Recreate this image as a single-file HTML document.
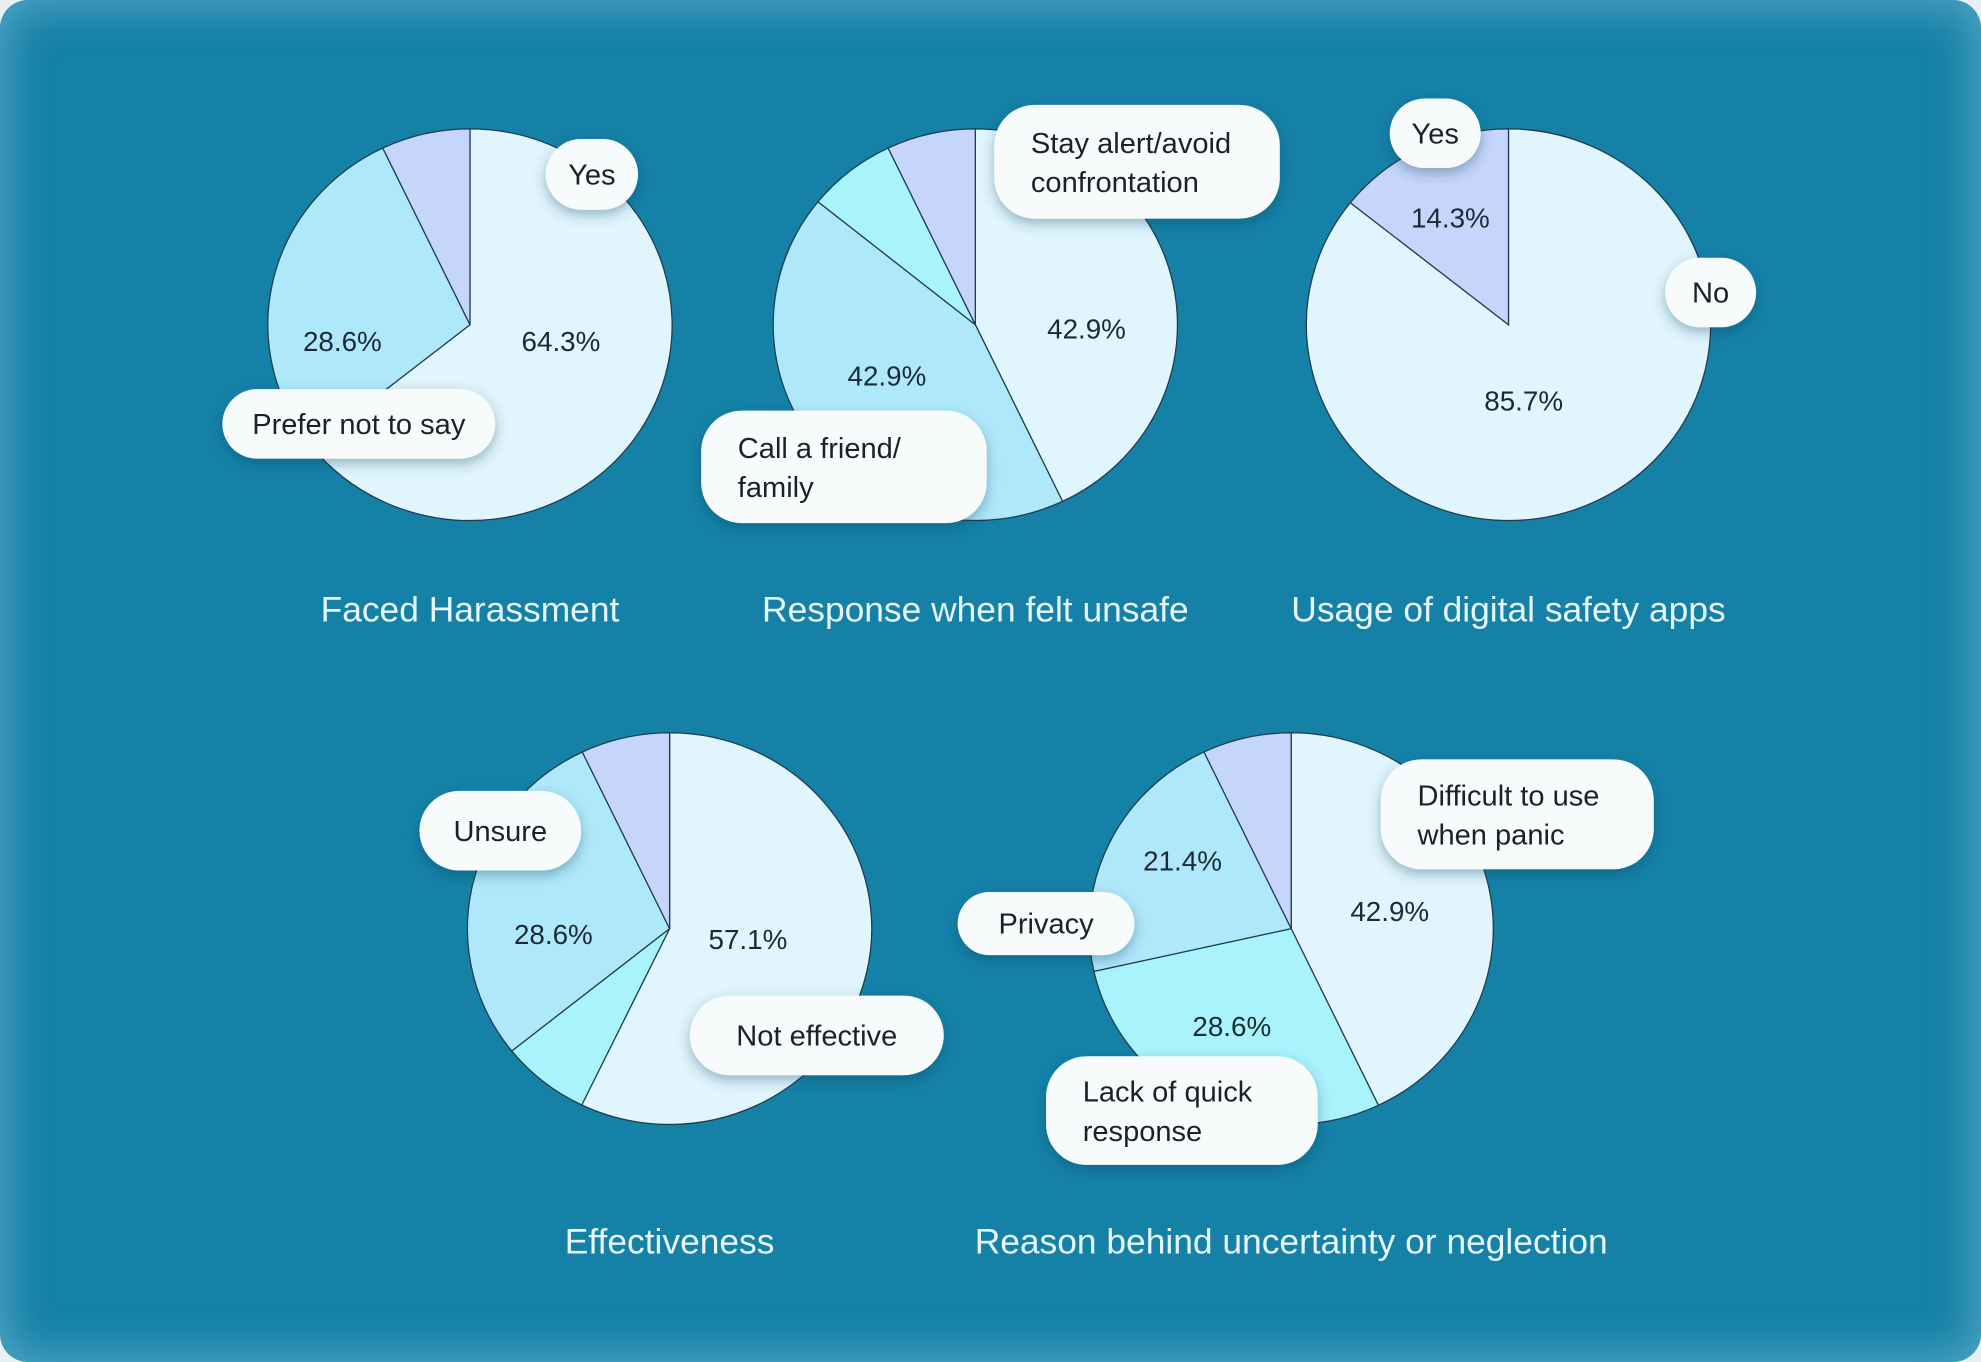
<!DOCTYPE html>
<html><head><meta charset="utf-8"><style>
html,body{margin:0;padding:0;width:1981px;height:1362px;overflow:hidden;background:#e8f0f3;font-family:"Liberation Sans",sans-serif}
#bg{position:absolute;left:0;top:0;width:1981px;height:1362px;border-radius:28px;background:#1581a7;box-shadow:inset 0 0 40px 10px rgba(120,190,215,0.55)}
svg{position:absolute;left:0;top:0}
</style></head><body>
<div id="bg"></div>
<svg id="chart" width="1981" height="1362" viewBox="0 0 1568 1078" preserveAspectRatio="none">
<defs><filter id="sh" x="-30%" y="-30%" width="160%" height="180%"><feDropShadow dx="0" dy="4" stdDeviation="5" flood-color="#0a3d55" flood-opacity="0.35"/></filter></defs>
</svg>
<script>
const titles=["Faced Harassment","Response when felt unsafe","Usage of digital safety apps","Effectiveness","Reason behind uncertainty or neglection"];
const values1=[64.3,28.6,7.1];
const values2=[42.9,42.9,7.1,7.1];
const values3=[85.7,14.3];
const values4=[57.1,7.1,28.6,7.1];
const values5=[42.9,28.6,21.4,7.1];
const colors1=["#e0f5fe","#b0e8fb","#c5d5fb"];
const colors2=["#e0f5fe","#b0e8fb","#a9f3fc","#c5d5fb"];
const colors3=["#e0f5fe","#c5d5fb"];
const colors4=["#e0f5fe","#a9f3fc","#b0e8fb","#c5d5fb"];
const colors5=["#e0f5fe","#a9f3fc","#b0e8fb","#c5d5fb"];
const pctLabels1=["64.3%","28.6%",""];
const pctLabels2=["42.9%","42.9%","",""];
const pctLabels3=["85.7%","14.3%"];
const pctLabels4=["57.1%","","28.6%",""];
const pctLabels5=["42.9%","28.6%","21.4%",""];
const NS="http://www.w3.org/2000/svg";
const svg=document.getElementById('chart');
function mk(t,a){const e=document.createElementNS(NS,t);for(const k in a)e.setAttribute(k,a[k]);svg.appendChild(e);return e;}
const RX=160,RY=155;
const pies=[
 {cx:372,cy:257,v:values1,c:colors1,l:pctLabels1,lp:[[444,270],[271,270],null]},
 {cx:772,cy:257,v:values2,c:colors2,l:pctLabels2,lp:[[860,260],[702,297],null,null]},
 {cx:1194,cy:257,v:values3,c:colors3,l:pctLabels3,lp:[[1206,317],[1148,172]]},
 {cx:530,cy:735,v:values4,c:colors4,l:pctLabels4,lp:[[592,743],null,[438,739],null]},
 {cx:1022,cy:735,v:values5,c:colors5,l:pctLabels5,lp:[[1100,721],[975,812],[936,681],null]}];
const titlePos=[[372,482],[772,482],[1194,482],[530,982],[1022,982]];
pies.forEach((p,pi)=>{
 const tot=p.v.reduce((a,b)=>a+b,0);let a0=0;
 p.v.forEach((v,i)=>{
  const a1=a0+v/tot*2*Math.PI;
  const x0=p.cx+RX*Math.sin(a0),y0=p.cy-RY*Math.cos(a0),x1=p.cx+RX*Math.sin(a1),y1=p.cy-RY*Math.cos(a1);
  const large=(a1-a0)>Math.PI?1:0;
  const s=mk('path',{d:`M${p.cx},${p.cy}L${x0},${y0}A${RX},${RY} 0 ${large} 1 ${x1},${y1}Z`,fill:p.c[i],stroke:'#1d3d4d','stroke-width':1});
  
  
  a0=a1;
 });
 p.v.forEach((v,i)=>{
  if(!p.l[i]||!p.lp[i])return;
  const t=mk('text',{x:p.lp[i][0],y:p.lp[i][1]+8,'text-anchor':'middle','font-size':22,fill:'#1b2b33'});
  t.textContent=p.l[i];
  
  
 });
 const tt=mk('text',{x:titlePos[pi][0],y:titlePos[pi][1]+10,'text-anchor':'middle','font-size':28,fill:'#e6f6fc'});
 tt.textContent=titles[pi];
 
 
});
const pills=[
 [432,110,73,56,["Yes"]],[176,308,216,55,["Prefer not to say"]],
 [787,83,226,90,["Stay alert/avoid","confrontation"]],[555,325,226,89,["Call a friend/","family"]],
 [1100,78,72,55,["Yes"]],[1318,204,72,55,["No"]],
 [332,626,128,63,["Unsure"]],[546,788,201,63,["Not effective"]],
 [1093,601,216,87,["Difficult to use","when panic"]],[758,706,140,50,["Privacy"]],[828,836,215,86,["Lack of quick","response"]]];
pills.forEach(p=>{
 const [x,y,w,h,lines]=p;
 const r=mk('rect',{x:x,y:y,width:w,height:h,rx:Math.min(h/2,32),fill:'#f8fbfc',filter:'url(#sh)'});
 
 
 const multi=lines.length>1;
 lines.forEach((ln,j)=>{
  const t=mk('text',{x:multi?x+29:x+w/2,y:multi?y+h/2-15+8+j*31:y+h/2+8,'text-anchor':multi?'start':'middle','font-size':23,fill:'#1b2126'});
  t.textContent=ln;
  
  
 });
});
</script>
</body></html>
